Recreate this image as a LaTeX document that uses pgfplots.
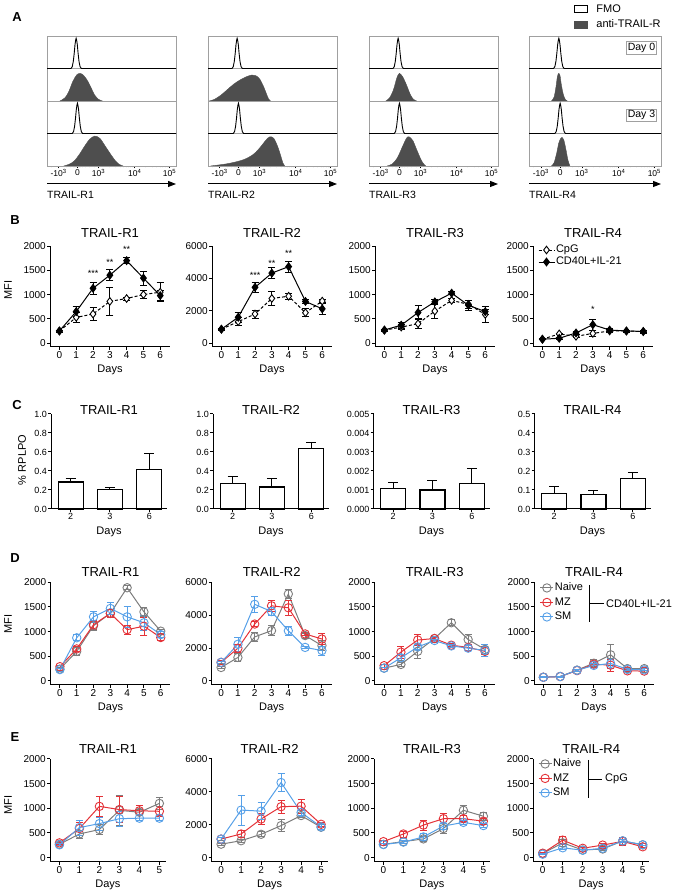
\documentclass[border=0pt]{standalone}
\usepackage{fontspec}
\setmainfont{Liberation Sans}
\usepackage{pgfplots}
\pgfplotsset{compat=1.18}
\usetikzlibrary{arrows.meta}

\definecolor{naive}{RGB}{125,125,125}
\definecolor{mz}{RGB}{228,50,56}
\definecolor{sm}{RGB}{86,160,232}
\definecolor{hist}{RGB}{78,78,78}
\definecolor{frame}{RGB}{160,160,160}

\newcommand{\fs}[1]{\fontsize{#1}{#1}\selectfont}
\tikzset{sig/.style={font=\fs{9}, inner sep=0pt}}

\pgfplotsset{
  prism/.style={
    scale only axis, clip=false, anchor=south west,
    axis lines=left,
    axis line style={-, line width=1pt},
    tick align=outside, major tick length=3pt,
    tick style={line width=1pt, black},
    ticklabel style={font=\fs{10}},
    yticklabel style={inner xsep=1pt},
    xticklabel style={inner ysep=1.5pt},
    scaled y ticks=false,
    /pgf/number format/assume math mode=true,
    /pgf/number format/1000 sep={},
    title style={font=\fs{13}, at={(0.5,1)}, anchor=center},
    xlabel={Days},
    xlabel style={font=\fs{11}, at={(0.5,0)}, anchor=center, yshift=-23pt},
  },
  week/.style={prism, width=120pt, xmin=-0.56, xmax=6.58, xtick={0,...,6}},
  bax/.style={week, height=100.9pt, title style={yshift=7pt}},
  dax/.style={week, height=102.6pt, title style={yshift=4pt}},
  eax/.style={prism, width=115.8pt, height=102.6pt, xmin=-0.47, xmax=5.32,
    xtick={0,...,5}, title style={yshift=4pt}},
  cax/.style={prism, width=116pt, height=95pt, xmin=-0.5, xmax=2.45, ymin=0,
    xtick={0,1,2}, xticklabels={2,3,6}, ticklabel style={font=\fs{9}},
    title style={yshift=-2pt}},
  mfi/.style={ymin=-80, ymax=2000, ytick={0,500,1000,1500,2000}},
  mfib/.style={ymin=-240, ymax=6000, ytick={0,2000,4000,6000}},
  ebar/.style={error bars/.cd, y dir=both, y explicit,
    error bar style={line width=0.8pt, solid},
    error mark options={rotate=90, mark size=3.5pt, line width=0.8pt, solid}},
  cpg/.style={black, line width=1pt, dash pattern=on 3pt off 2pt, mark=diamond*,
    mark size=3.8pt, mark options={solid, fill=white, line width=0.9pt}, ebar},
  cd40/.style={black, line width=1pt, mark=diamond*, mark size=3.8pt,
    mark options={solid, fill=black}, ebar},
  grp/.style={line width=1pt, mark=o, mark size=4.2pt,
    mark options={solid, line width=0.9pt}, ebar},
  nv/.style={color=naive, grp},
  mzs/.style={color=mz, grp},
  sms/.style={color=sm, grp},
  cbar/.style={ybar, bar width=25pt, bar shift=0pt, draw=black, fill=white,
    line width=1.3pt, error bars/.cd, y dir=plus, y explicit,
    error bar style={line width=1pt},
    error mark options={rotate=90, mark size=5pt, line width=1pt}},
  leg/.style={legend style={at={#1}, anchor=north west, draw=none, fill=none,
    inner sep=0pt, font=\fs{11}, row sep=3pt,
    nodes={inner sep=1pt, text height=7.5pt, text depth=2pt}},
    legend cell align=left},
  legB/.style={legend image code/.code={\draw[##1, mark repeat=2, mark phase=2]
    plot coordinates {(0pt,0pt) (8pt,0pt) (16pt,0pt)};}},
  legD/.style={legend image code/.code={\draw[##1, mark repeat=2, mark phase=2]
    plot coordinates {(0pt,0pt) (6.5pt,0pt) (13pt,0pt)};}},
  histax/.style={scale only axis, anchor=south west, width=129pt, height=130pt,
    xmin=0, xmax=1, ymin=0, ymax=4,
    axis line style={frame, line width=0.8pt}, ytick=\empty,
    xtick={0.09,0.237,0.40,0.68,0.95},
    xticklabels={-10\textsuperscript{3},0,10\textsuperscript{3},10\textsuperscript{4},10\textsuperscript{5}},
    minor xtick={0.03,0.15,0.18,0.2,0.215,0.222,0.229,0.245,0.252,0.26,0.275,0.3,0.33,0.37,
      0.484,0.532,0.566,0.592,0.613,0.632,0.647,0.661,
      0.764,0.814,0.849,0.875,0.896,0.914,0.929,0.942},
    xtick pos=left, tick align=outside, major tick length=2.5pt, minor tick length=1.5pt,
    tick style={black, line width=0.6pt},
    xticklabel style={font=\fs{8.5}, inner ysep=1pt},
    extra y ticks={1,2,3}, extra y tick labels={},
    extra y tick style={grid=major, major grid style={frame, line width=0.8pt},
      tick style={draw=none}}},
  fmo/.style={black, line width=0.9pt},
  hf/.style={draw=hist, fill=hist, line width=0.4pt, smooth},
}

\begin{document}
\begin{tikzpicture}
\path[use as bounding box] (0pt,0pt) rectangle (674pt,892pt);

% ---------------- A: histograms ----------------
\begin{axis}[histax, at={(47pt,726pt)}]
\addplot[fmo] coordinates {(0,3) (0.186,3) (0.196,3.06) (0.204,3.22) (0.211,3.47) (0.217,3.73) (0.222,3.87) (0.226,3.93) (0.230,3.87) (0.235,3.73) (0.241,3.47) (0.248,3.22) (0.256,3.06) (0.266,3) (1,3)};
\addplot[hf] coordinates {(0.10,2) (0.14,2.1) (0.17,2.3) (0.20,2.6) (0.23,2.8) (0.255,2.85) (0.28,2.8) (0.31,2.65) (0.34,2.42) (0.37,2.18) (0.40,2.05) (0.43,2)};
\addplot[fmo] coordinates {(0,1) (0.196,1) (0.206,1.06) (0.214,1.22) (0.221,1.47) (0.227,1.73) (0.232,1.87) (0.236,1.93) (0.240,1.87) (0.245,1.73) (0.251,1.47) (0.258,1.22) (0.266,1.06) (0.276,1) (1,1)};
\addplot[hf] coordinates {(0.13,0) (0.17,0.05) (0.21,0.15) (0.25,0.35) (0.29,0.6) (0.33,0.82) (0.37,0.92) (0.41,0.85) (0.45,0.62) (0.49,0.38) (0.53,0.16) (0.56,0.05) (0.59,0)};
\end{axis}

\begin{axis}[histax, at={(208pt,726pt)}]
\addplot[fmo] coordinates {(0,3) (0.186,3) (0.196,3.06) (0.204,3.22) (0.211,3.47) (0.217,3.73) (0.222,3.87) (0.226,3.93) (0.230,3.87) (0.235,3.73) (0.241,3.47) (0.248,3.22) (0.256,3.06) (0.266,3) (1,3)};
\addplot[hf] coordinates {(0.01,2) (0.05,2.05) (0.10,2.18) (0.15,2.35) (0.20,2.52) (0.25,2.65) (0.30,2.75) (0.34,2.8) (0.37,2.78) (0.40,2.68) (0.43,2.45) (0.455,2.2) (0.47,2.06) (0.485,2)};
\addplot[fmo] coordinates {(0,1) (0.196,1) (0.206,1.06) (0.214,1.22) (0.221,1.47) (0.227,1.73) (0.232,1.87) (0.236,1.93) (0.240,1.87) (0.245,1.73) (0.251,1.47) (0.258,1.22) (0.266,1.06) (0.276,1) (1,1)};
\addplot[hf] coordinates {(0.02,0) (0.08,0.03) (0.15,0.07) (0.22,0.13) (0.28,0.2) (0.33,0.3) (0.37,0.42) (0.41,0.6) (0.45,0.8) (0.48,0.9) (0.51,0.85) (0.54,0.6) (0.565,0.3) (0.58,0.1) (0.595,0)};
\end{axis}

\begin{axis}[histax, at={(369pt,726pt)}]
\addplot[fmo] coordinates {(0,3) (0.186,3) (0.196,3.06) (0.204,3.22) (0.211,3.47) (0.217,3.73) (0.222,3.87) (0.226,3.93) (0.230,3.87) (0.235,3.73) (0.241,3.47) (0.248,3.22) (0.256,3.06) (0.266,3) (1,3)};
\addplot[hf] coordinates {(0.13,2) (0.16,2.1) (0.19,2.35) (0.215,2.7) (0.235,2.85) (0.26,2.75) (0.29,2.5) (0.32,2.2) (0.345,2.05) (0.37,2)};
\addplot[fmo] coordinates {(0,1) (0.196,1) (0.206,1.06) (0.214,1.22) (0.221,1.47) (0.227,1.73) (0.232,1.87) (0.236,1.93) (0.240,1.87) (0.245,1.73) (0.251,1.47) (0.258,1.22) (0.266,1.06) (0.276,1) (1,1)};
\addplot[hf] coordinates {(0.14,0) (0.18,0.06) (0.22,0.25) (0.26,0.6) (0.29,0.85) (0.31,0.9) (0.34,0.78) (0.37,0.5) (0.40,0.22) (0.42,0.08) (0.44,0)};
\end{axis}

\begin{axis}[histax, at={(529pt,726pt)}, width=132pt,
  legend style={at={(1.01,1.254)}, anchor=north east, draw=none, fill=none,
    inner sep=0pt, font=\fs{11}, row sep=2.5pt,
    nodes={inner sep=1.5pt, text height=7.5pt, text depth=2pt}},
  legend cell align=left,
  legend image code/.code={\draw[#1] (0pt,-3.5pt) rectangle (13pt,3.5pt); \path (20pt,0pt);}]
\addplot[fmo] coordinates {(0,3) (0.186,3) (0.196,3.06) (0.204,3.22) (0.211,3.47) (0.217,3.73) (0.222,3.87) (0.226,3.93) (0.230,3.87) (0.235,3.73) (0.241,3.47) (0.248,3.22) (0.256,3.06) (0.266,3) (1,3)};
\addplot[hf] coordinates {(0.17,2) (0.19,2.12) (0.205,2.45) (0.215,2.75) (0.225,2.85) (0.235,2.78) (0.245,2.5) (0.26,2.2) (0.275,2.05) (0.29,2)};
\addplot[fmo] coordinates {(0,1) (0.196,1) (0.206,1.06) (0.214,1.22) (0.221,1.47) (0.227,1.73) (0.232,1.87) (0.236,1.93) (0.240,1.87) (0.245,1.73) (0.251,1.47) (0.258,1.22) (0.266,1.06) (0.276,1) (1,1)};
\addplot[hf] coordinates {(0.17,0) (0.19,0.1) (0.21,0.4) (0.225,0.7) (0.24,0.85) (0.25,0.88) (0.265,0.78) (0.28,0.5) (0.295,0.18) (0.31,0)};
\legend{FMO, anti-TRAIL-R}
\node[draw=frame, line width=0.6pt, fill=white, font=\fs{10.5}, inner sep=1.5pt, anchor=east] at (rel axis cs:0.97,0.91) {Day 0};
\node[draw=frame, line width=0.6pt, fill=white, font=\fs{10.5}, inner sep=1.5pt, anchor=east] at (rel axis cs:0.97,0.39) {Day 3};
\end{axis}

\foreach \x/\w/\lab in {47/129/TRAIL-R1, 208/129/TRAIL-R2, 369/129/TRAIL-R3, 529/132/TRAIL-R4} {
  \draw[line width=1pt, -{Triangle[length=8pt, width=6pt]}] (\x pt,708pt) -- ({\x pt+\w pt},708pt);
  \node[anchor=west, inner sep=0pt, font=\fs{10.5}] at (\x pt,697pt) {\lab};
}

% ---------------- B ----------------
\begin{axis}[bax, mfi, at={(50pt,545pt)}, title={TRAIL-R1}]
\addplot[cpg] coordinates {(0,250) +- (0,20) (1,530) +- (0,100) (2,600) +- (0,130) (3,860) +- (0,290) (4,920) +- (0,30) (5,1000) +- (0,80) (6,1050) +- (0,200)};
\addplot[cd40] coordinates {(0,250) +- (0,20) (1,650) +- (0,100) (2,1130) +- (0,130) (3,1400) +- (0,110) (4,1700) +- (0,60) (5,1340) +- (0,140) (6,980) +- (0,100)};
\node[sig] at (axis cs:2,1443) {***};
\node[sig] at (axis cs:3,1670) {**};
\node[sig] at (axis cs:4,1938) {**};
\end{axis}

\begin{axis}[bax, mfib, at={(212pt,545pt)}, title={TRAIL-R2}]
\addplot[cpg] coordinates {(0,860) +- (0,60) (1,1330) +- (0,250) (2,1800) +- (0,250) (3,2760) +- (0,450) (4,2900) +- (0,200) (5,1880) +- (0,250) (6,2600) +- (0,100)};
\addplot[cd40] coordinates {(0,860) +- (0,60) (1,1600) +- (0,330) (2,3450) +- (0,300) (3,4330) +- (0,350) (4,4730) +- (0,350) (5,2580) +- (0,150) (6,2120) +- (0,330)};
\node[sig] at (axis cs:2,4206) {***};
\node[sig] at (axis cs:3,4930) {**};
\node[sig] at (axis cs:4,5548) {**};
\end{axis}

\begin{axis}[bax, mfi, at={(375pt,545pt)}, title={TRAIL-R3}]
\addplot[cpg] coordinates {(0,265) +- (0,20) (1,330) +- (0,50) (2,400) +- (0,100) (3,660) +- (0,150) (4,880) +- (0,40) (5,800) +- (0,80) (6,590) +- (0,170)};
\addplot[cd40] coordinates {(0,270) +- (0,20) (1,370) +- (0,60) (2,630) +- (0,150) (3,850) +- (0,50) (4,1030) +- (0,30) (5,780) +- (0,100) (6,650) +- (0,50)};
\end{axis}

\begin{axis}[bax, mfi, at={(533pt,545pt)}, title={TRAIL-R4}, leg={(0.04,1.02)}, legB,
  legend style={row sep=0.5pt}]
\addplot[cpg] coordinates {(0,80) +- (0,10) (1,190) +- (0,20) (2,140) +- (0,30) (3,200) +- (0,60) (4,250) +- (0,30) (5,250) +- (0,20) (6,240) +- (0,20)};
\addplot[cd40] coordinates {(0,80) +- (0,10) (1,100) +- (0,20) (2,210) +- (0,30) (3,380) +- (0,110) (4,270) +- (0,30) (5,250) +- (0,20) (6,240) +- (0,30)};
\node[sig] at (axis cs:3,700) {*};
\legend{CpG, CD40L+IL-21}
\end{axis}

% ---------------- C ----------------
\begin{axis}[cax, at={(51pt,383pt)}, ymax=1, ytick={0,0.2,0.4,0.6,0.8,1},
  yticklabels={0.0,0.2,0.4,0.6,0.8,1.0}, title={TRAIL-R1}]
\addplot[cbar] coordinates {(0,0.283) +- (0,0.034) (1,0.207) +- (0,0.02) (2,0.415) +- (0,0.17)};
\end{axis}

\begin{axis}[cax, at={(213pt,383pt)}, ymax=1, ytick={0,0.2,0.4,0.6,0.8,1},
  yticklabels={0.0,0.2,0.4,0.6,0.8,1.0}, title={TRAIL-R2}]
\addplot[cbar] coordinates {(0,0.27) +- (0,0.07) (1,0.233) +- (0,0.083) (2,0.64) +- (0,0.06)};
\end{axis}

\begin{axis}[cax, at={(373.5pt,383pt)}, ymax=0.005, ytick={0,0.001,0.002,0.003,0.004,0.005},
  yticklabels={0.000,0.001,0.002,0.003,0.004,0.005}, title={TRAIL-R3}]
\addplot[cbar] coordinates {(0,0.00107) +- (0,0.0003) (1,0.001) +- (0,0.0005) (2,0.00133) +- (0,0.0008)};
\end{axis}

\begin{axis}[cax, at={(534.5pt,383pt)}, ymax=0.5, ytick={0,0.1,0.2,0.3,0.4,0.5},
  yticklabels={0.0,0.1,0.2,0.3,0.4,0.5}, title={TRAIL-R4}]
\addplot[cbar] coordinates {(0,0.08) +- (0,0.037) (1,0.078) +- (0,0.02) (2,0.16) +- (0,0.034)};
\end{axis}

% ---------------- D ----------------
\begin{axis}[dax, mfi, at={(50.5pt,207.1pt)}, title={TRAIL-R1}]
\addplot[nv] coordinates {(0,240) +- (0,30) (1,600) +- (0,90) (2,1120) +- (0,90) (3,1370) +- (0,80) (4,1890) +- (0,40) (5,1400) +- (0,90) (6,1010) +- (0,40)};
\addplot[mzs] coordinates {(0,290) +- (0,30) (1,650) +- (0,60) (2,1140) +- (0,90) (3,1370) +- (0,90) (4,1040) +- (0,90) (5,1110) +- (0,180) (6,880) +- (0,60)};
\addplot[sms] coordinates {(0,230) +- (0,30) (1,875) +- (0,60) (2,1300) +- (0,120) (3,1470) +- (0,120) (4,1300) +- (0,220) (5,1180) +- (0,150) (6,940) +- (0,60)};
\end{axis}

\begin{axis}[dax, mfib, at={(211.7pt,207.1pt)}, title={TRAIL-R2}]
\addplot[nv] coordinates {(0,820) +- (0,60) (1,1430) +- (0,250) (2,2680) +- (0,280) (3,3060) +- (0,300) (4,5290) +- (0,260) (5,2760) +- (0,150) (6,2150) +- (0,300)};
\addplot[mzs] coordinates {(0,1130) +- (0,100) (1,1990) +- (0,250) (2,3460) +- (0,150) (3,4570) +- (0,350) (4,4450) +- (0,450) (5,2860) +- (0,100) (6,2550) +- (0,320)};
\addplot[sms] coordinates {(0,1130) +- (0,80) (1,2230) +- (0,420) (2,4660) +- (0,480) (3,4220) +- (0,250) (4,3050) +- (0,250) (5,2040) +- (0,80) (6,1850) +- (0,270)};
\end{axis}

\begin{axis}[dax, mfi, at={(374.7pt,207.1pt)}, title={TRAIL-R3}]
\addplot[nv] coordinates {(0,260) +- (0,20) (1,335) +- (0,50) (2,600) +- (0,150) (3,860) +- (0,40) (4,1180) +- (0,60) (5,840) +- (0,100) (6,640) +- (0,100)};
\addplot[mzs] coordinates {(0,310) +- (0,30) (1,585) +- (0,120) (2,830) +- (0,110) (3,860) +- (0,30) (4,725) +- (0,30) (5,680) +- (0,60) (6,600) +- (0,100)};
\addplot[sms] coordinates {(0,260) +- (0,20) (1,470) +- (0,60) (2,690) +- (0,60) (3,820) +- (0,30) (4,710) +- (0,30) (5,665) +- (0,50) (6,620) +- (0,120)};
\end{axis}

\begin{axis}[dax, mfi, at={(534pt,207.1pt)}, title={TRAIL-R4}, leg={(0.0475,1.003)}, legD]
\addplot[nv] coordinates {(0,75) +- (0,10) (1,90) +- (0,10) (2,220) +- (0,20) (3,360) +- (0,80) (4,530) +- (0,210) (5,250) +- (0,30) (6,250) +- (0,30)};
\addplot[mzs] coordinates {(0,75) +- (0,10) (1,90) +- (0,10) (2,210) +- (0,20) (3,340) +- (0,50) (4,320) +- (0,120) (5,205) +- (0,20) (6,200) +- (0,20)};
\addplot[sms] coordinates {(0,75) +- (0,10) (1,90) +- (0,10) (2,215) +- (0,20) (3,315) +- (0,50) (4,355) +- (0,100) (5,235) +- (0,20) (6,225) +- (0,20)};
\legend{Naive, MZ, SM}
\end{axis}

% ---------------- E ----------------
\begin{axis}[eax, mfi, at={(50pt,30.4pt)}, title={TRAIL-R1}]
\addplot[nv] coordinates {(0,270) +- (0,30) (1,480) +- (0,80) (2,570) +- (0,100) (3,960) +- (0,300) (4,920) +- (0,60) (5,1100) +- (0,130)};
\addplot[mzs] coordinates {(0,300) +- (0,30) (1,590) +- (0,130) (2,1040) +- (0,200) (3,975) +- (0,260) (4,950) +- (0,100) (5,940) +- (0,100)};
\addplot[sms] coordinates {(0,260) +- (0,20) (1,610) +- (0,150) (2,690) +- (0,130) (3,790) +- (0,150) (4,800) +- (0,50) (5,800) +- (0,50)};
\end{axis}

\begin{axis}[eax, mfib, at={(211.7pt,30.4pt)}, title={TRAIL-R2}]
\addplot[nv] coordinates {(0,820) +- (0,60) (1,1030) +- (0,100) (2,1420) +- (0,150) (3,1950) +- (0,350) (4,2560) +- (0,120) (5,1850) +- (0,150)};
\addplot[mzs] coordinates {(0,1130) +- (0,100) (1,1440) +- (0,200) (2,2350) +- (0,350) (3,3100) +- (0,400) (4,3130) +- (0,420) (5,2030) +- (0,120)};
\addplot[sms] coordinates {(0,1130) +- (0,80) (1,2890) +- (0,900) (2,2830) +- (0,500) (3,4570) +- (0,550) (4,2750) +- (0,150) (5,1870) +- (0,150)};
\end{axis}

\begin{axis}[eax, mfi, at={(374pt,30.4pt)}, title={TRAIL-R3}]
\addplot[nv] coordinates {(0,270) +- (0,20) (1,325) +- (0,30) (2,380) +- (0,60) (3,590) +- (0,100) (4,960) +- (0,100) (5,840) +- (0,80)};
\addplot[mzs] coordinates {(0,325) +- (0,30) (1,480) +- (0,60) (2,660) +- (0,100) (3,790) +- (0,100) (4,790) +- (0,60) (5,740) +- (0,60)};
\addplot[sms] coordinates {(0,265) +- (0,20) (1,315) +- (0,30) (2,420) +- (0,80) (3,640) +- (0,60) (4,715) +- (0,40) (5,650) +- (0,40)};
\end{axis}

\begin{axis}[eax, mfi, at={(533.3pt,30.4pt)}, title={TRAIL-R4}, leg={(0.04,1.01)}, legD]
\addplot[nv] coordinates {(0,85) +- (0,20) (1,300) +- (0,70) (2,155) +- (0,20) (3,175) +- (0,20) (4,340) +- (0,80) (5,260) +- (0,20)};
\addplot[mzs] coordinates {(0,90) +- (0,20) (1,355) +- (0,80) (2,190) +- (0,20) (3,255) +- (0,30) (4,330) +- (0,80) (5,220) +- (0,20)};
\addplot[sms] coordinates {(0,70) +- (0,10) (1,200) +- (0,30) (2,150) +- (0,20) (3,190) +- (0,20) (4,340) +- (0,40) (5,260) +- (0,20)};
\legend{Naive, MZ, SM}
\end{axis}

% ---------------- labels and brackets ----------------
\node[font=\fs{13}\bfseries] at (17pt,875pt) {A};
\node[font=\fs{13}\bfseries] at (15pt,672pt) {B};
\node[font=\fs{13}\bfseries] at (17pt,487pt) {C};
\node[font=\fs{13}\bfseries] at (15pt,334pt) {D};
\node[font=\fs{13}\bfseries] at (15pt,155pt) {E};
\node[rotate=90, font=\fs{11}] at (8pt,602pt) {MFI};
\node[rotate=90, font=\fs{11}] at (22pt,432pt) {\% RPLPO};
\node[rotate=90, font=\fs{11}] at (8pt,268pt) {MFI};
\node[rotate=90, font=\fs{11}] at (8pt,87pt) {MFI};

\draw[line width=1pt] (589.7pt,307pt) -- (589.7pt,270.3pt);
\draw[line width=1pt] (589.7pt,288pt) -- (604pt,288pt);
\node[anchor=west, inner sep=0pt, font=\fs{11}] at (606pt,288pt) {CD40L+IL-21};
\draw[line width=1pt] (588pt,132pt) -- (588pt,93.7pt);
\draw[line width=1pt] (588pt,112.7pt) -- (602pt,112.7pt);
\node[anchor=west, inner sep=0pt, font=\fs{11}] at (605pt,112.7pt) {CpG};
\end{tikzpicture}
\end{document}
